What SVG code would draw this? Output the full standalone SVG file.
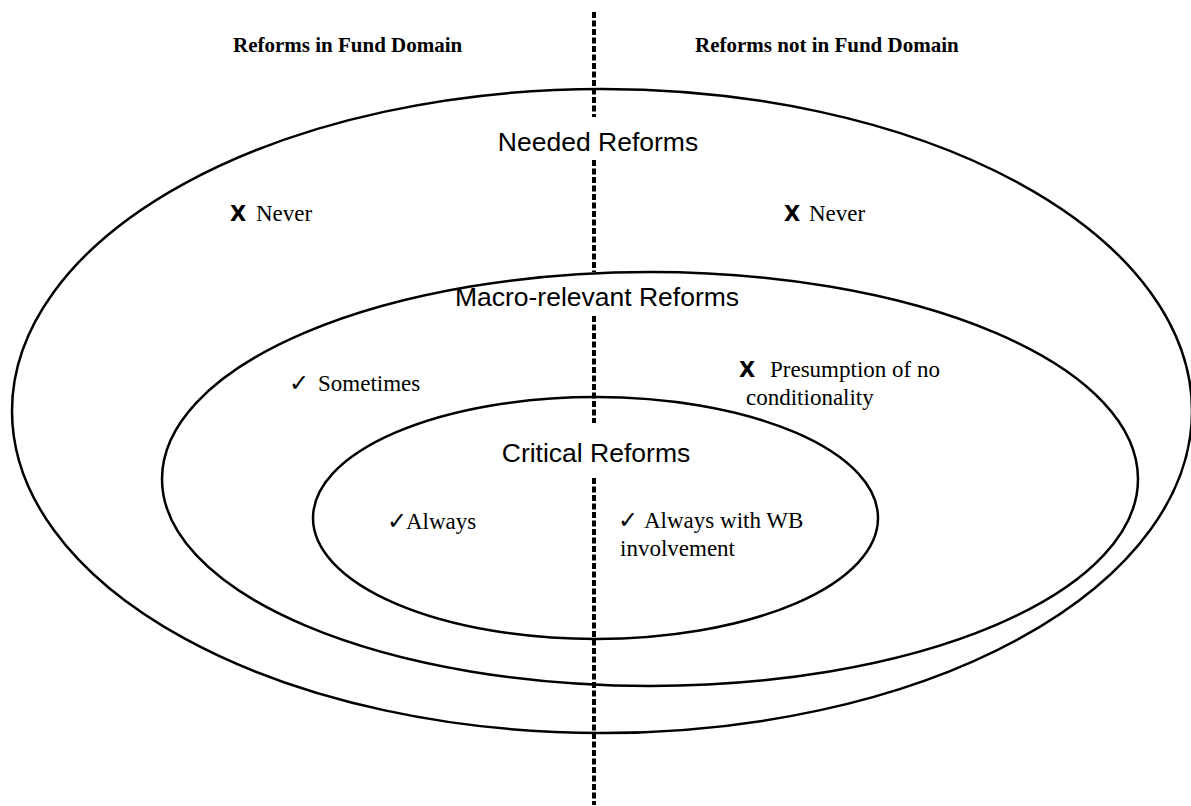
<svg xmlns="http://www.w3.org/2000/svg" width="1191" height="806" viewBox="0 0 1191 806">
<style>
.ell{fill:none;stroke:#000;stroke-width:2.5}
.div{stroke:#000;stroke-width:4;stroke-dasharray:6 2.5;fill:none}
.hdr{font-family:"Liberation Serif",serif;font-weight:bold;font-size:21px;fill:#000}
.ttl{font-family:"Liberation Sans",Arial,sans-serif;font-size:26.5px;fill:#000;text-anchor:middle}
.lbl{font-family:"Liberation Serif",serif;font-size:23px;fill:#000}
.x{font-family:"DejaVu Sans",sans-serif;font-weight:bold;font-size:21px;fill:#000}
.ck{font-family:"DejaVu Sans",sans-serif;font-size:24px;fill:#000}
</style>
<rect width="1191" height="806" fill="#fff"/>
<g id="needed">
<ellipse class="ell" cx="602" cy="411" rx="590" ry="322"/>
<text class="ttl" x="598" y="151">Needed Reforms</text>
<text class="x" x="230" y="221">X</text><text class="lbl" x="256" y="221">Never</text>
<text class="x" x="784" y="221">X</text><text class="lbl" x="809" y="221">Never</text>
</g>
<g id="macro">
<ellipse class="ell" cx="650" cy="479" rx="488" ry="207"/>
<text class="ttl" x="597" y="306">Macro-relevant Reforms</text>
<text class="ck" x="289" y="391">✓</text><text class="lbl" x="318" y="391">Sometimes</text>
<text class="x" x="739" y="377">X</text><text class="lbl" x="770" y="377">Presumption of no</text>
<text class="lbl" x="746" y="405">conditionality</text>
</g>
<g id="critical">
<ellipse class="ell" cx="595.5" cy="518" rx="282.5" ry="121"/>
<text class="ttl" x="596" y="462">Critical Reforms</text>
<text class="ck" x="387" y="529">✓</text><text class="lbl" x="406" y="529">Always</text>
<text class="ck" x="618" y="528">✓</text><text class="lbl" x="644" y="528">Always with WB</text>
<text class="lbl" x="620" y="556">involvement</text>
</g>
<g id="headers">
<text class="hdr" x="233" y="52">Reforms in Fund Domain</text>
<text class="hdr" x="695" y="52">Reforms not in Fund Domain</text>
</g>
<g id="connectors">
<line class="div" x1="594" y1="12" x2="594" y2="117"/>
<line class="div" x1="594" y1="160" x2="594" y2="272"/>
<line class="div" x1="594" y1="316" x2="594" y2="423"/>
<line class="div" x1="594" y1="478" x2="594" y2="805"/>
</g>
</svg>
